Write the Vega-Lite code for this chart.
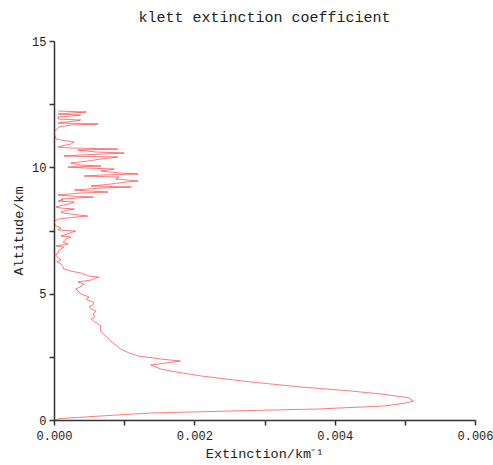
{
  "$schema": "https://vega.github.io/schema/vega-lite/v6.json",
  "width": 421,
  "height": 379,
  "padding": {"left": 11, "top": 10, "right": 10, "bottom": 0},
  "background": "white",
  "title": {"text": "klett extinction coefficient", "font": "Liberation Mono", "fontSize": 15, "fontWeight": "normal", "color": "#222", "offset": 10},
  "config": {"view": {"stroke": null}},
  "data": {"values": [
    {"alt": 0.000, "ext": 0},
    {"alt": 0.059, "ext": 0.0001},
    {"alt": 0.158, "ext": 0.00067},
    {"alt": 0.277, "ext": 0.00138},
    {"alt": 0.356, "ext": 0.00252},
    {"alt": 0.435, "ext": 0.00376},
    {"alt": 0.554, "ext": 0.0047},
    {"alt": 0.673, "ext": 0.00502},
    {"alt": 0.752, "ext": 0.00512},
    {"alt": 0.871, "ext": 0.00506},
    {"alt": 0.910, "ext": 0.00499},
    {"alt": 1.029, "ext": 0.00466},
    {"alt": 1.148, "ext": 0.00423},
    {"alt": 1.306, "ext": 0.00352},
    {"alt": 1.504, "ext": 0.00281},
    {"alt": 1.622, "ext": 0.00245},
    {"alt": 1.741, "ext": 0.0021},
    {"alt": 1.900, "ext": 0.00174},
    {"alt": 2.018, "ext": 0.00152},
    {"alt": 2.176, "ext": 0.00138},
    {"alt": 2.256, "ext": 0.0016},
    {"alt": 2.335, "ext": 0.0018},
    {"alt": 2.414, "ext": 0.00152},
    {"alt": 2.533, "ext": 0.0012},
    {"alt": 2.651, "ext": 0.00107},
    {"alt": 2.810, "ext": 0.00095},
    {"alt": 2.928, "ext": 0.0009},
    {"alt": 3.007, "ext": 0.00086},
    {"alt": 3.126, "ext": 0.00081},
    {"alt": 3.205, "ext": 0.00078},
    {"alt": 3.324, "ext": 0.00074},
    {"alt": 3.482, "ext": 0.00067},
    {"alt": 3.601, "ext": 0.00066},
    {"alt": 3.720, "ext": 0.00067},
    {"alt": 3.799, "ext": 0.00063},
    {"alt": 3.918, "ext": 0.00056},
    {"alt": 3.997, "ext": 0.00053},
    {"alt": 4.076, "ext": 0.00058},
    {"alt": 4.195, "ext": 0.00056},
    {"alt": 4.313, "ext": 0.0006},
    {"alt": 4.393, "ext": 0.00053},
    {"alt": 4.472, "ext": 0.0005},
    {"alt": 4.590, "ext": 0.00057},
    {"alt": 4.670, "ext": 0.00056},
    {"alt": 4.749, "ext": 0.00048},
    {"alt": 4.788, "ext": 0.00046},
    {"alt": 4.867, "ext": 0.0005},
    {"alt": 4.986, "ext": 0.00038},
    {"alt": 5.065, "ext": 0.00036},
    {"alt": 5.184, "ext": 0.00031},
    {"alt": 5.263, "ext": 0.00037},
    {"alt": 5.382, "ext": 0.00043},
    {"alt": 5.461, "ext": 0.00034},
    {"alt": 5.540, "ext": 0.00053},
    {"alt": 5.580, "ext": 0.00056},
    {"alt": 5.659, "ext": 0.00064},
    {"alt": 5.698, "ext": 0.0005},
    {"alt": 5.738, "ext": 0.00046},
    {"alt": 5.817, "ext": 0.00038},
    {"alt": 5.857, "ext": 0.00031},
    {"alt": 5.896, "ext": 0.00024},
    {"alt": 5.936, "ext": 0.00019},
    {"alt": 5.975, "ext": 0.00014},
    {"alt": 6.055, "ext": 0.00013},
    {"alt": 6.173, "ext": 0.0001},
    {"alt": 6.253, "ext": 0.00004},
    {"alt": 6.292, "ext": 0.00006},
    {"alt": 6.332, "ext": 0.0001},
    {"alt": 6.411, "ext": 0.00007},
    {"alt": 6.490, "ext": 0.00003},
    {"alt": 6.569, "ext": 0.00003},
    {"alt": 6.648, "ext": 0.00007},
    {"alt": 6.688, "ext": 0.00006},
    {"alt": 6.767, "ext": 0.0001},
    {"alt": 6.846, "ext": 0.00014},
    {"alt": 6.886, "ext": 0.00003},
    {"alt": 6.925, "ext": 0.0001},
    {"alt": 6.965, "ext": 0.0002},
    {"alt": 7.044, "ext": 0.00013},
    {"alt": 7.083, "ext": 0.00014},
    {"alt": 7.163, "ext": 0.00017},
    {"alt": 7.242, "ext": 0.00024},
    {"alt": 7.281, "ext": 0.0001},
    {"alt": 7.361, "ext": 0.00019},
    {"alt": 7.479, "ext": 0.00031},
    {"alt": 7.519, "ext": 0.00006},
    {"alt": 7.598, "ext": 0.0001},
    {"alt": 7.638, "ext": 0.00007},
    {"alt": 7.677, "ext": 0.00003},
    {"alt": 7.756, "ext": 0.00001},
    {"alt": 7.875, "ext": 0},
    {"alt": 7.915, "ext": 0.00004},
    {"alt": 7.954, "ext": 0.00006},
    {"alt": 8.033, "ext": 0.00031},
    {"alt": 8.073, "ext": 0.00048},
    {"alt": 8.112, "ext": 0.00036},
    {"alt": 8.152, "ext": 0.00024},
    {"alt": 8.192, "ext": 0.00013},
    {"alt": 8.231, "ext": 0.0001},
    {"alt": 8.310, "ext": 0.00019},
    {"alt": 8.350, "ext": 0.00029},
    {"alt": 8.389, "ext": 0.0001},
    {"alt": 8.429, "ext": 0.00003},
    {"alt": 8.508, "ext": 0.00013},
    {"alt": 8.548, "ext": 0.00021},
    {"alt": 8.627, "ext": 0.00029},
    {"alt": 8.666, "ext": 0.00006},
    {"alt": 8.706, "ext": 0.00013},
    {"alt": 8.746, "ext": 0.0001},
    {"alt": 8.825, "ext": 0.00056},
    {"alt": 8.864, "ext": 0.00024},
    {"alt": 8.904, "ext": 0.00006},
    {"alt": 8.983, "ext": 0.00038},
    {"alt": 9.023, "ext": 0.00077},
    {"alt": 9.062, "ext": 0.00053},
    {"alt": 9.102, "ext": 0.00029},
    {"alt": 9.181, "ext": 0.00067},
    {"alt": 9.220, "ext": 0.0011},
    {"alt": 9.260, "ext": 0.00053},
    {"alt": 9.339, "ext": 0.00081},
    {"alt": 9.418, "ext": 0.00103},
    {"alt": 9.458, "ext": 0.0012},
    {"alt": 9.537, "ext": 0.00088},
    {"alt": 9.616, "ext": 0.00093},
    {"alt": 9.656, "ext": 0.00043},
    {"alt": 9.695, "ext": 0.00067},
    {"alt": 9.735, "ext": 0.0012},
    {"alt": 9.774, "ext": 0.00095},
    {"alt": 9.854, "ext": 0.00067},
    {"alt": 9.933, "ext": 0.00086},
    {"alt": 9.973, "ext": 0.00046},
    {"alt": 10.012, "ext": 0.0002},
    {"alt": 10.052, "ext": 0.00067},
    {"alt": 10.091, "ext": 0.00038},
    {"alt": 10.170, "ext": 0.00024},
    {"alt": 10.210, "ext": 0.00036},
    {"alt": 10.249, "ext": 0.00048},
    {"alt": 10.329, "ext": 0.00067},
    {"alt": 10.408, "ext": 0.00091},
    {"alt": 10.447, "ext": 0.00014},
    {"alt": 10.487, "ext": 0.00038},
    {"alt": 10.527, "ext": 0.00067},
    {"alt": 10.566, "ext": 0.001},
    {"alt": 10.606, "ext": 0.0006},
    {"alt": 10.685, "ext": 0.00034},
    {"alt": 10.724, "ext": 0.00091},
    {"alt": 10.764, "ext": 0.00024},
    {"alt": 10.803, "ext": 0.00006},
    {"alt": 10.883, "ext": 0.00017},
    {"alt": 10.922, "ext": 0.00024},
    {"alt": 11.001, "ext": 0.00029},
    {"alt": 11.080, "ext": 0.0001},
    {"alt": 11.120, "ext": 0.00003},
    {"alt": 11.278, "ext": 0.00001},
    {"alt": 11.397, "ext": 0},
    {"alt": 11.476, "ext": 0.00003},
    {"alt": 11.595, "ext": 0.00007},
    {"alt": 11.674, "ext": 0.00024},
    {"alt": 11.714, "ext": 0.00063},
    {"alt": 11.753, "ext": 0.00006},
    {"alt": 11.793, "ext": 0.00017},
    {"alt": 11.832, "ext": 0.00031},
    {"alt": 11.872, "ext": 0.00038},
    {"alt": 11.911, "ext": 0.00006},
    {"alt": 11.990, "ext": 0.00006},
    {"alt": 12.030, "ext": 0.00024},
    {"alt": 12.070, "ext": 0.00038},
    {"alt": 12.109, "ext": 0.00006},
    {"alt": 12.149, "ext": 0.00024},
    {"alt": 12.188, "ext": 0.00046},
    {"alt": 12.228, "ext": 0.00006}
  ]},
  "mark": {"type": "line", "color": "#ff0000", "strokeWidth": 0.7, "opacity": 0.75, "clip": true},
  "encoding": {
    "x": {"field": "ext", "type": "quantitative",
      "scale": {"domain": [0, 0.006], "nice": false, "zero": false},
      "axis": {"title": "Extinction/km⁻¹", "values": [0, 0.001, 0.002, 0.003, 0.004, 0.005, 0.006],
        "labelExpr": "(round(datum.value*1000) % 2 == 0) ? format(datum.value, '.3f') : ''",
        "grid": false, "domainColor": "#333", "domainWidth": 1.5, "tickColor": "#333", "tickWidth": 1.5, "tickSize": 5,
        "labelFont": "Liberation Mono", "labelFontSize": 12, "labelColor": "#222", "labelPadding": 5, "labelFlush": false,
        "titleFont": "Liberation Mono", "titleFontSize": 13.5, "titleFontWeight": "normal", "titleColor": "#222", "titlePadding": 5}},
    "y": {"field": "alt", "type": "quantitative",
      "scale": {"domain": [0, 15], "nice": false, "zero": false},
      "axis": {"title": "Altitude/km", "values": [0, 2.5, 5, 7.5, 10, 12.5, 15],
        "labelExpr": "(datum.value % 5 == 0) ? format(datum.value, 'd') : ''",
        "grid": false, "domainColor": "#333", "domainWidth": 1.5, "tickColor": "#333", "tickWidth": 1.5, "tickSize": 5,
        "labelFont": "Liberation Mono", "labelFontSize": 12, "labelColor": "#222", "labelPadding": 3,
        "titleFont": "Liberation Mono", "titleFontSize": 13.5, "titleFontWeight": "normal", "titleColor": "#222", "titlePadding": 6}},
    "order": {"field": "alt", "type": "quantitative"}
  }
}
